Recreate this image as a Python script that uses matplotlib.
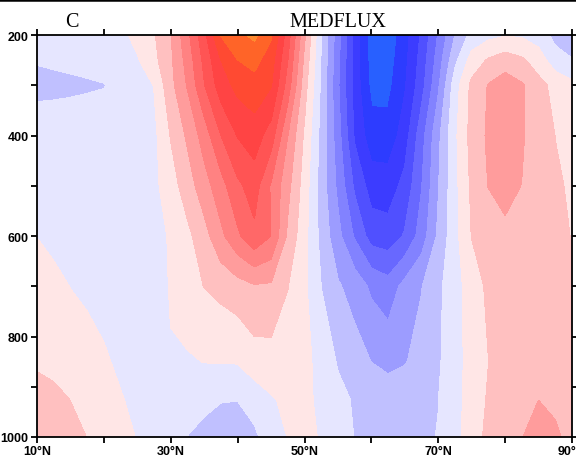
import numpy as np
import matplotlib
matplotlib.use('Agg')
import matplotlib.pyplot as plt
from matplotlib.lines import Line2D

# ---------------- data ----------------
lats = np.arange(10, 90.1, 2.5)          # 33 latitudes
pressure = [200, 250, 300, 400, 500, 600, 700, 850, 925, 1000]

flux_200 = [-0.6, -0.55, -0.5, -0.45, -0.4, -0.25, 0.28, 0.9, 1.91, 3.71,
            5.67, 8.03, 8.76, 9.2, 8.13, 5.43, 2.13, -1.0, -3.63, -6.44,
            -8.6, -8.7, -7.44, -5.86, -3.93, -2.02, -0.7, -0.3, -0.1, -0.15,
            -0.5, -1.3, -1.7]
flux_250 = [-0.95, -0.9, -0.85, -0.8, -0.7, -0.45, -0.1, 0.71, 1.81, 3.36,
            5.23, 6.98, 7.98, 8.33, 7.44, 4.98, 1.71, -1.1, -3.76, -6.43,
            -8.45, -8.5, -7.29, -5.62, -3.58, -1.27, 0.4, 1.1, 1.5, 1.15,
            0.5, -0.6, -0.95]
flux_300 = [-1.2, -1.17, -1.13, -1.08, -1.03, -0.85, -0.4, 0.02, 1.68, 3.07,
            4.92, 6.5, 7.29, 7.6, 7.06, 4.5, 1.38, -1.2, -3.89, -6.42,
            -8.3, -8.3, -7.12, -5.42, -3.2, -0.47, 1.23, 2.05, 2.5, 2.1,
            1.3, 0.7, 0.24]
flux_400 = [-0.6, -0.6, -0.6, -0.6, -0.6, -0.55, -0.5, -0.26, 1.05, 2.16,
            3.43, 4.98, 6.04, 6.5, 5.5, 2.98, 0.8, -1.35, -3.6, -6.17,
            -7.6, -7.65, -6.5, -4.42, -2.27, -0.21, 1.35, 2.15, 2.43, 2.08,
            1.55, 0.98, 0.55]
flux_500 = [-0.45, -0.45, -0.5, -0.5, -0.55, -0.6, -0.6, -0.25, 0.54, 1.5,
            2.57, 3.59, 4.78, 5.45, 3.86, 2.28, 0.5, -1.47, -3.25, -5.21,
            -6.45, -6.5, -5.71, -4.07, -2.08, -0.29, 1.18, 2.02, 2.25, 1.98,
            1.6, 1.15, 0.85]
flux_600 = [-0.02, -0.2, -0.3, -0.4, -0.45, -0.5, -0.5, -0.35, 0.1, 0.74,
            1.6, 2.75, 3.8, 4.75, 3.98, 1.77, 0.29, -1.33, -2.72, -4.13,
            -5.45, -5.6, -4.9, -3.56, -1.83, -0.32, 1.02, 1.5, 1.82, 1.7,
            1.45, 1.2, 0.97]
flux_700 = [0.45, 0.2, -0.02, -0.15, -0.3, -0.4, -0.45, -0.4, 0.06, 0.53,
            1.02, 1.29, 1.59, 1.88, 1.83, 1.02, 0.17, -1.02, -1.89, -2.42,
            -3.2, -3.6, -2.68, -2.05, -1.23, -0.38, 0.45, 1.2, 1.5, 1.45,
            1.35, 1.2, 1.1]
flux_850 = [0.85, 0.7, 0.5, 0.3, 0.1, -0.15, -0.35, -0.35, -0.05, -0.1,
            0.02, 0.04, 0.06, 0.55, 0.6, 0.55, 0.3, -0.4, -1.09, -1.57,
            -2.02, -2.3, -2.07, -1.65, -1.14, -0.36, 0.35, 0.98, 1.45, 1.6,
            1.75, 1.55, 1.3]
flux_925 = [1.4, 1.25, 0.98, 0.6, 0.35, 0.05, -0.2, -0.4, -0.5, -0.6,
            -0.75, -0.95, -0.98, -0.6, -0.1, 0.2, 0.3, -0.3, -0.75, -1.1,
            -1.3, -1.4, -1.38, -1.25, -1.02, -0.35, 0.4, 1.1, 1.6, 1.8,
            1.98, 1.75, 1.45]
flux_1000 = [1.6, 1.45, 1.3, 0.98, 0.7, 0.3, -0.05, -0.3, -0.6, -1.02,
             -1.3, -1.5, -1.5, -1.2, -0.5, 0.02, 0.3, -0.1, -0.55, -1.03,
             -1.2, -1.3, -1.28, -1.15, -0.97, -0.3, 0.5, 1.25, 1.65, 1.95,
             2.55, 2.2, 1.6]

field = np.array([flux_200, flux_250, flux_300, flux_400, flux_500,
                  flux_600, flux_700, flux_850, flux_925, flux_1000])

contour_levels = list(range(-9, 11))
band_colors = ['#2860ff', '#2d3cff', '#3c3cff', '#5050ff', '#6868ff',
               '#8282ff', '#9c9cff', '#c0c0ff', '#e6e6ff',
               '#ffe6e6', '#ffc0c0', '#ff9c9c', '#ff8282', '#ff6868',
               '#ff5454', '#ff4444', '#ff4a32', '#ff6428', '#ff8a30']

xticks = [10, 20, 30, 40, 50, 60, 70, 80, 90]
xticklabels = ['10°N', '', '30°N', '', '50°N', '', '70°N', '', '90°N']
yticks_major = [200, 400, 600, 800, 1000]
yticks_minor = [300, 500, 700, 900]

# ---------------- plot ----------------
fig = plt.figure(figsize=(5.76, 4.6), dpi=100)
ax = fig.add_axes([37 / 576, 22 / 460, 535 / 576, 402 / 460])

cs = ax.contourf(lats, pressure, field, levels=contour_levels, colors=band_colors)
cs.set_edgecolor('face')
cs.set_linewidth(0.4)

ax.set_xlim(10, 90)
ax.set_ylim(1000, 200)

ax.set_xticks(xticks)
ax.set_xticklabels(xticklabels)
ax.set_yticks(yticks_major)
ax.set_yticks(yticks_minor, minor=True)

tick_font = dict(family='Liberation Sans', weight='bold', size=9)
for lab in ax.get_xticklabels() + ax.get_yticklabels():
    lab.set_fontfamily(tick_font['family'])
    lab.set_fontweight(tick_font['weight'])
    lab.set_fontsize(tick_font['size'])

ax.tick_params(which='both', direction='out', length=4.5, width=1.3,
               top=True, right=True, pad=1.5, colors='black')
for sp in ax.spines.values():
    sp.set_linewidth(1.3)

fig.text(72 / 576, 1 - 27 / 460, 'C', ha='center', va='baseline',
         family='Liberation Serif', fontsize=14.5)
fig.text(338 / 576, 1 - 27 / 460, 'MEDFLUX', ha='center', va='baseline',
         family='Liberation Serif', fontsize=14.5)

fig.add_artist(Line2D([0, 1], [1 - 1.2 / 460, 1 - 1.2 / 460], color='black',
                      lw=1.8, transform=fig.transFigure))

fig.savefig('out.png', dpi=100)
